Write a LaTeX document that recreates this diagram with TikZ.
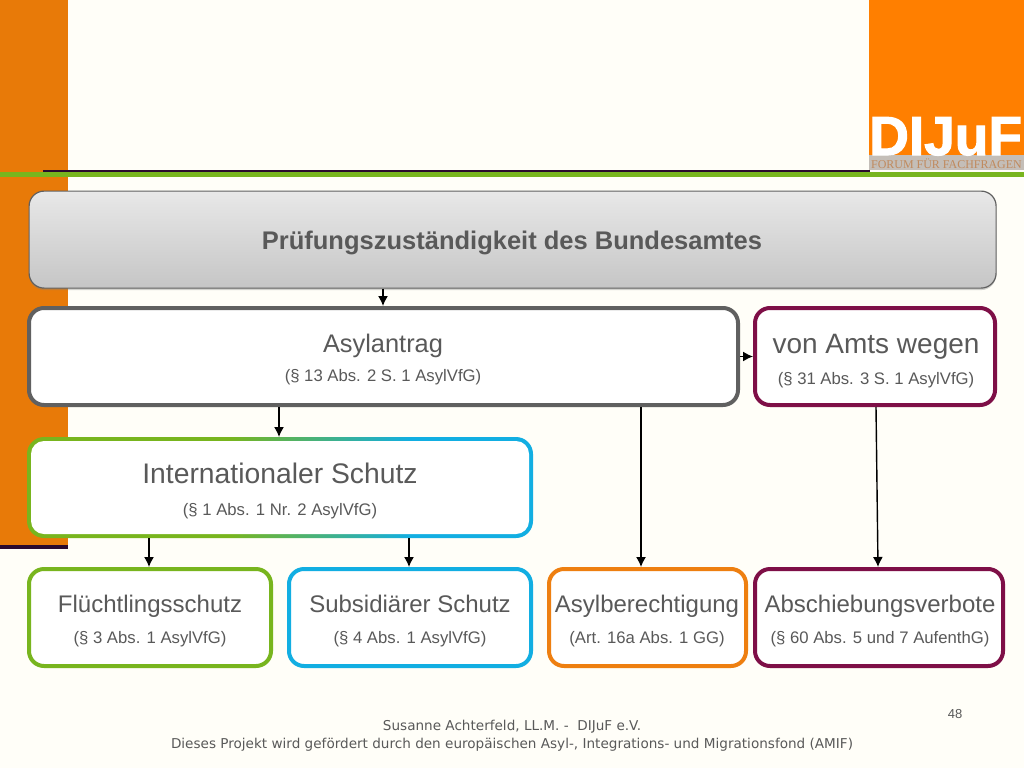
\documentclass[tikz,border=0pt]{standalone}
\usepackage{fontspec}
\setmainfont{Liberation Sans}
\newfontfamily\footfont{DejaVu Sans}
\newfontfamily\logoserif{Liberation Serif}
\newfontfamily\logofont[FakeBold=2]{Liberation Sans Bold}
\usetikzlibrary{arrows.meta,shadows}
\definecolor{bgc}{HTML}{FFFEF8}
\definecolor{barc}{HTML}{E87A08}
\definecolor{darkc}{HTML}{2A0A2E}
\definecolor{lineg}{HTML}{78B51E}
\definecolor{logoc}{HTML}{FF7F00}
\definecolor{bandc}{HTML}{C4BEB8}
\definecolor{bandt}{HTML}{C08A5E}
\definecolor{greyc}{HTML}{606060}
\definecolor{txtc}{HTML}{595959}
\definecolor{bluec}{HTML}{12AEE2}
\definecolor{orangec}{HTML}{EE7F10}
\definecolor{maroonc}{HTML}{7E0F47}
\pgfdeclarehorizontalshading{gbshade}{100bp}{color(0bp)=(lineg); color(45bp)=(lineg); color(63bp)=(bluec); color(100bp)=(bluec)}
\tikzset{
  x=1pt,y=-1pt,
  box/.style={draw=#1,line width=4pt,fill=white,rounded corners=15pt,inner sep=0pt,outer sep=2pt,anchor=north west},
  ttl/.style={text=txtc,font=\fontsize{#1}{#1}\selectfont,inner sep=0pt,anchor=base},
  sub/.style={text=txtc,font=\fontsize{16.7}{17}\selectfont,inner sep=0pt,anchor=base},
  flow/.style={draw=black,line width=1.4pt,-{Latex[length=10pt,width=10pt]}},
}
\begin{document}
\begin{tikzpicture}
\useasboundingbox (0,0) rectangle (1024,768);
\fill[bgc] (0,0) rectangle (1024,768);
% side bar
\fill[barc] (0,0) rectangle (68,545);
\fill[darkc] (0,545) rectangle (68,549);
% logo
\fill[logoc] (869,0) rectangle (1024,155);
\fill[bandc] (869,155) rectangle (1024,170);
\node[anchor=base west,inner sep=0pt,text=white,font=\logofont\fontsize{55}{55}\selectfont] (logo) at (869,155) {DIJuF};
\node[anchor=base west,inner sep=0pt,text=bandt,font=\logoserif\fontsize{11.95}{12}\selectfont] (logosub) at (871,168.5) {FORUM FÜR FACHFRAGEN};
% rules
\fill[darkc] (43,170.2) rectangle (870,172);
\fill[lineg] (0,172) rectangle (1024,176.5);
% top box
\node[anchor=north west,inner sep=0pt,outer sep=.6pt,minimum width=967pt,minimum height=97pt,rounded corners=15pt,draw=greyc,line width=1.2pt,top color=gray!18,bottom color=gray!45,drop shadow={shadow xshift=0pt,shadow yshift=-2pt,opacity=.35}] (top) at (28.5,190.5) {};
\node[anchor=base,inner sep=0pt,text=txtc,font=\fontsize{25.5}{26}\selectfont\bfseries] (toplabel) at (512,249) {Prüfungszuständigkeit des Bundesamtes};
% main boxes
\node[box=greyc,minimum width=709pt,minimum height=97pt] (asyl) at (27,306) {};
\node[box=maroonc,minimum width=240pt,minimum height=97pt] (amts) at (753,306) {};
% Internationaler Schutz with gradient border
\shade[shading=gbshade,rounded corners=17pt] (27,437) rectangle (533,538);
\node[anchor=north west,inner sep=0pt,outer sep=4pt,fill=white,rounded corners=13pt,minimum width=498pt,minimum height=93pt] (intl) at (27,437) {};
\node[box=lineg,minimum width=242pt,minimum height=97pt] (fluecht) at (27,567) {};
\node[box=bluec,minimum width=242pt,minimum height=97pt] (subs) at (287,567) {};
\node[box=orangec,minimum width=197pt,minimum height=97pt] (asylb) at (547,567) {};
\node[box=maroonc,minimum width=248pt,minimum height=97pt] (absch) at (753,567) {};
% texts
\node[ttl=25.4] (t1) at (383,352) {Asylantrag};
\node[sub] (s1) at (383,381) {(§ 13 Abs. 2 S. 1 AsylVfG)};
\node[ttl=28] (t2) at (876,353) {von Amts wegen};
\node[sub] (s2) at (876,384) {(§ 31 Abs. 3 S. 1 AsylVfG)};
\node[ttl=28.3] (t3) at (280,483) {Internationaler Schutz};
\node[sub] (s3) at (280,515) {(§ 1 Abs. 1 Nr. 2 AsylVfG)};
\node[ttl=24] (t4) at (150,612) {Flüchtlingsschutz};
\node[sub] (s4) at (150,643) {(§ 3 Abs. 1 AsylVfG)};
\node[ttl=24] (t5) at (410,612) {Subsidiärer Schutz};
\node[sub] (s5) at (410,643) {(§ 4 Abs. 1 AsylVfG)};
\node[ttl=24] (t6) at (647,612) {Asylberechtigung};
\node[sub] (s6) at (647,643) {(Art. 16a Abs. 1 GG)};
\node[ttl=24] (t7) at (880,612) {Abschiebungsverbote};
\node[sub] (s7) at (880,643) {(§ 60 Abs. 5 und 7 AufenthG)};
% connector columns
\coordinate (c1) at (383,0);
\coordinate (c2) at (279,0);
\coordinate (c3) at (149,0);
\coordinate (c4) at (409,0);
\coordinate (c5) at (641,0);
\coordinate (c6) at (876,0);
\coordinate (c7) at (878,0);
\draw[flow] (top.south -| c1) -- (asyl.north -| c1);
\draw[flow] (asyl.south -| c2) -- (intl.north -| c2);
\draw[flow] (intl.south -| c3) -- (fluecht.north -| c3);
\draw[flow] (intl.south -| c4) -- (subs.north -| c4);
\draw[flow] (asyl.south -| c5) -- (asylb.north -| c5);
\draw[flow] (amts.south -| c6) -- (absch.north -| c7);
\draw[flow] (asyl.east) -- (amts.west);
% footer
\node[anchor=base,inner sep=0pt,text=txtc,font=\footfont\fontsize{13.58}{14}\selectfont] (f1) at (512,730) {Susanne Achterfeld, LL.M. -\ \ DIJuF e.V.};
\node[anchor=base,inner sep=0pt,text=txtc,font=\footfont\fontsize{13.58}{14}\selectfont] (f2) at (512,748) {Dieses Projekt wird gefördert durch den europäischen Asyl-, Integrations- und Migrationsfond (AMIF)};
\node[anchor=base,inner sep=0pt,text=txtc,font=\fontsize{13}{14}\selectfont] (pg) at (955,718) {48};
\end{tikzpicture}
\end{document}
